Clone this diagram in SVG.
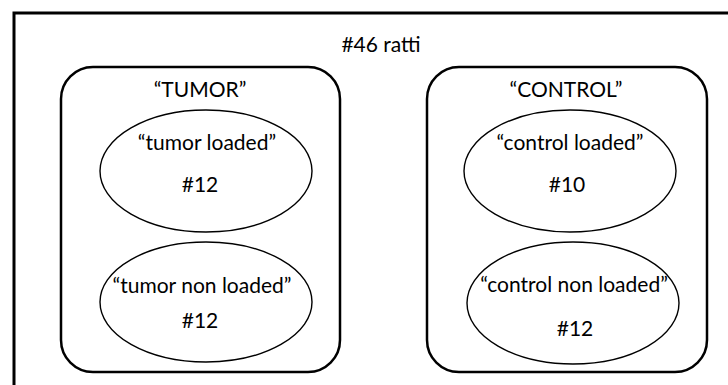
<svg xmlns="http://www.w3.org/2000/svg" width="728" height="385" viewBox="0 0 728 385">
<style>
text{font-family:Lato,"Open Sans","Liberation Sans",sans-serif;font-size:21px;fill:#000;text-anchor:middle}
.grp{fill:#fff;stroke:#000;stroke-width:2.5}
.ell{fill:#fff;stroke:#000;stroke-width:1.4}
</style>
<rect width="728" height="385" fill="#fff"/>
<g id="outer">
<rect x="14" y="13" width="730" height="390" fill="#fff" stroke="#000" stroke-width="3"/>
<text x="381" y="52">#46 ratti</text>
</g>
<g id="tumor">
<rect class="grp" x="61" y="67" width="279" height="305" rx="32"/>
<text x="200" y="97">“TUMOR”</text>
</g>
<g id="control">
<rect class="grp" x="427" y="67" width="280" height="305" rx="32"/>
<text x="566" y="97">“CONTROL”</text>
</g>
<g id="tumor-loaded">
<ellipse class="ell" cx="206" cy="171" rx="106" ry="61"/>
<text x="207" y="150">“tumor loaded”</text>
<text x="200" y="192">#12</text>
</g>
<g id="tumor-non-loaded">
<ellipse class="ell" cx="206" cy="302" rx="106" ry="60"/>
<text x="202" y="293">“tumor non loaded”</text>
<text x="200" y="328">#12</text>
</g>
<g id="control-loaded">
<ellipse class="ell" cx="570" cy="171" rx="106" ry="61"/>
<text x="570" y="150">“control loaded”</text>
<text x="567" y="192">#10</text>
</g>
<g id="control-non-loaded">
<ellipse class="ell" cx="573" cy="303" rx="106" ry="61"/>
<text x="574" y="292">“control non loaded”</text>
<text x="575" y="336">#12</text>
</g>
<g id="connectors"></g>
</svg>
